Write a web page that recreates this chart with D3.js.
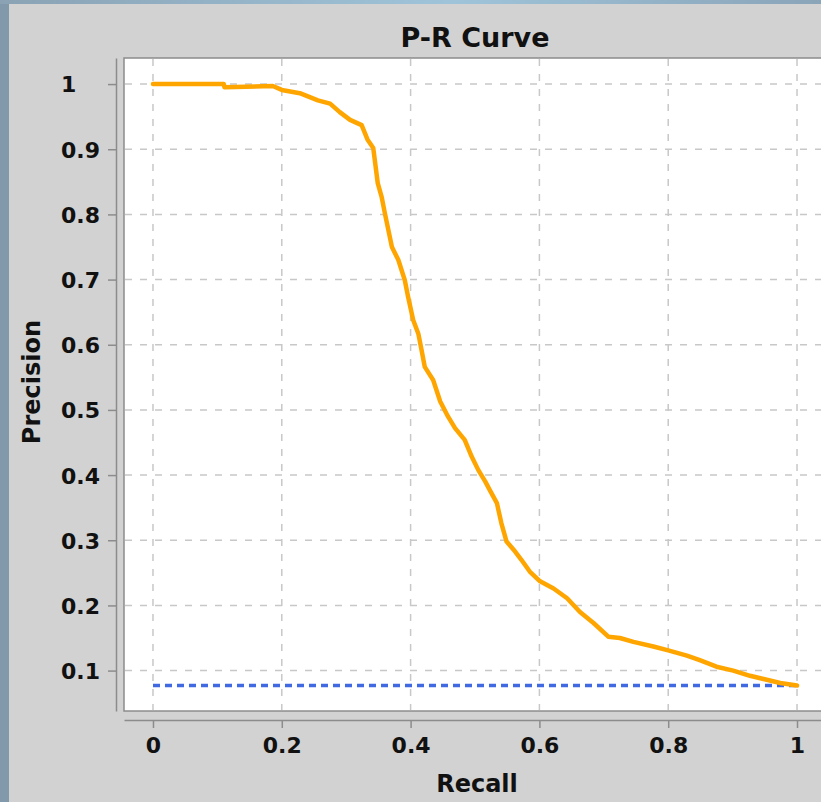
<!DOCTYPE html>
<html><head><meta charset="utf-8">
<script src="https://cdn.jsdelivr.net/npm/d3@7"></script>
<style>html,body{margin:0;padding:0;background:#d2d2d2;} svg{display:block;}</style>
</head><body>
<svg id="chart" width="821" height="802"></svg>
<script>
const recall = [0, 0.110, 0.111, 0.186, 0.200, 0.228, 0.256, 0.275, 0.290, 0.306, 0.324, 0.333, 0.342, 0.349, 0.355, 0.360, 0.371, 0.381, 0.391, 0.396, 0.404, 0.412, 0.417, 0.422, 0.435, 0.446, 0.458, 0.469, 0.484, 0.495, 0.505, 0.516, 0.523, 0.534, 0.541, 0.549, 0.562, 0.572, 0.585, 0.601, 0.622, 0.643, 0.663, 0.684, 0.707, 0.725, 0.746, 0.777, 0.800, 0.829, 0.849, 0.875, 0.901, 0.927, 0.953, 0.974, 1.0];
const precision = [1.0, 1.0, 0.995, 0.997, 0.991, 0.986, 0.975, 0.970, 0.957, 0.945, 0.937, 0.915, 0.902, 0.848, 0.827, 0.802, 0.750, 0.730, 0.699, 0.674, 0.638, 0.617, 0.592, 0.566, 0.546, 0.513, 0.490, 0.472, 0.454, 0.428, 0.408, 0.390, 0.377, 0.357, 0.326, 0.298, 0.283, 0.270, 0.252, 0.237, 0.226, 0.211, 0.190, 0.173, 0.152, 0.150, 0.144, 0.137, 0.131, 0.123, 0.116, 0.106, 0.100, 0.092, 0.086, 0.081, 0.077];
const baselineRecall = [0, 1];
const baselinePrecision = [0.077, 0.077];
const xTicks = [0, 0.2, 0.4, 0.6, 0.8, 1];
const xTickLabels = ["0", "0.2", "0.4", "0.6", "0.8", "1"];
const yTicks = [0.1, 0.2, 0.3, 0.4, 0.5, 0.6, 0.7, 0.8, 0.9, 1];
const yTickLabels = ["0.1", "0.2", "0.3", "0.4", "0.5", "0.6", "0.7", "0.8", "0.9", "1"];
const title = "P-R Curve";
const xLabel = "Recall";
const yLabel = "Precision";

const svg = d3.select("#chart");
const font = "'DejaVu Sans', sans-serif";

// background frame
const defs = svg.append("defs");
const g1 = defs.append("linearGradient").attr("id", "topg").attr("x1", "0").attr("x2", "1");
g1.append("stop").attr("offset", "0").attr("stop-color", "#8aa2b4");
g1.append("stop").attr("offset", "0.55").attr("stop-color", "#9fc4da");
g1.append("stop").attr("offset", "1").attr("stop-color", "#8aa4b8");
svg.append("rect").attr("x", 0).attr("y", 0).attr("width", 821).attr("height", 802).attr("fill", "#8199ab");
svg.append("rect").attr("x", 0).attr("y", 0).attr("width", 821).attr("height", 4).attr("fill", "url(#topg)");
svg.append("rect").attr("x", 9).attr("y", 4).attr("width", 812).attr("height", 798).attr("fill", "#d2d2d2");

const x = d3.scaleLinear().domain([-0.045, 1.045]).range([124, 826]);
const y = d3.scaleLinear().domain([0.038, 1.04]).range([711, 58]);

// plot area
svg.append("rect").attr("x", 124).attr("y", 58).attr("width", 720).attr("height", 653)
  .attr("fill", "#ffffff").attr("stroke", "#8c8c8c").attr("stroke-width", 1.5);

// grid
const grid = svg.append("g").attr("stroke", "#c8c8c8").attr("stroke-width", 1.5).attr("stroke-dasharray", "7,8");
grid.selectAll("line.v").data(xTicks).join("line").attr("class", "v")
  .attr("x1", d => x(d)).attr("x2", d => x(d)).attr("y1", 59).attr("y2", 710);
grid.selectAll("line.h").data(yTicks).join("line").attr("class", "h")
  .attr("y1", d => y(d)).attr("y2", d => y(d)).attr("x1", 125).attr("x2", 826);

// axes
const yAxis = d3.axisLeft(y).tickValues(yTicks).tickSize(8).tickSizeOuter(0)
  .tickFormat((d, i) => yTickLabels[i]);
const ya = svg.append("g").attr("transform", "translate(116,0)").call(yAxis);
ya.select(".domain").attr("stroke", "#8c8c8c").attr("stroke-width", 1.5);
ya.selectAll(".tick line").attr("stroke", "#8c8c8c").attr("stroke-width", 1.5);
ya.selectAll(".tick text").attr("text-anchor", "start").attr("x", -55).attr("dy", "0.36em")
  .attr("font-family", font).attr("font-weight", "bold").attr("font-size", 22).attr("fill", "#111");

const xAxis = d3.axisBottom(x).tickValues(xTicks).tickSize(8).tickSizeOuter(0)
  .tickFormat((d, i) => xTickLabels[i]);
const xa = svg.append("g").attr("transform", "translate(0,720)").call(xAxis);
xa.select(".domain").attr("stroke", "#8c8c8c").attr("stroke-width", 1.5);
xa.selectAll(".tick line").attr("stroke", "#8c8c8c").attr("stroke-width", 1.5);
xa.selectAll(".tick text").attr("y", 33).attr("dy", 0)
  .attr("font-family", font).attr("font-weight", "bold").attr("font-size", 22).attr("fill", "#111");

// baseline
const line = d3.line().x(d => x(d[0])).y(d => y(d[1]));
svg.append("path").datum(baselineRecall.map((r, i) => [r, baselinePrecision[i]]))
  .attr("d", line).attr("fill", "none").attr("stroke", "#4169e1").attr("stroke-width", 3.5)
  .attr("stroke-dasharray", "7,5");

// curve
svg.append("path").datum(recall.map((r, i) => [r, precision[i]]))
  .attr("d", line).attr("fill", "none").attr("stroke", "#ffa500").attr("stroke-width", 4.5)
  .attr("stroke-linejoin", "round").attr("stroke-linecap", "round");

// labels
svg.append("text").attr("x", 475).attr("y", 47).attr("text-anchor", "middle")
  .attr("font-family", font).attr("font-weight", "bold").attr("font-size", 27).attr("fill", "#111").text(title);
svg.append("text").attr("x", 477).attr("y", 792).attr("text-anchor", "middle")
  .attr("font-family", font).attr("font-weight", "bold").attr("font-size", 24).attr("fill", "#111").text(xLabel);
svg.append("text").attr("transform", "translate(40,382) rotate(-90)").attr("text-anchor", "middle")
  .attr("font-family", font).attr("font-weight", "bold").attr("font-size", 24).attr("fill", "#111").text(yLabel);
</script>
</body></html>
